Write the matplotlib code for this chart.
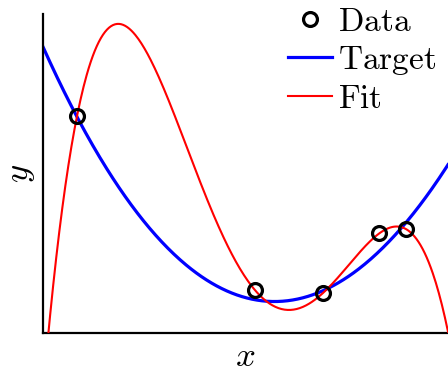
import matplotlib
matplotlib.use("Agg")
import matplotlib.pyplot as plt
import numpy as np

plt.rcParams['mathtext.fontset'] = 'cm'

# noisy samples
x_data = np.array([0.084, 0.523, 0.691, 0.830, 0.896])
y_data = np.array([0.680, 0.135, 0.125, 0.312, 0.326])

# true function (cubic coefficients, highest power first)
target_coeffs = [-0.1057, 2.564, -2.8277, 0.897]

# degree 4 polynomial through the 5 samples
fit_coeffs = np.polyfit(x_data, y_data, 4)

xs = np.linspace(0, 1, 400)

fig = plt.figure(figsize=(4.48, 3.73), dpi=100)
ax = fig.add_axes([43 / 448, 40 / 373, 405 / 448, 319 / 373])

ax.plot(xs, np.polyval(target_coeffs, xs), color='blue', lw=2.3, label=r'$\mathrm{Target}$', zorder=2)
ax.plot(xs, np.polyval(fit_coeffs, xs), color='red', lw=1.5, label=r'$\mathrm{Fit}$', zorder=3)
ax.plot(x_data, y_data, 'o', mfc='none', mec='black', mew=2.3, ms=10,
        label=r'$\mathrm{Data}$', zorder=4)

ax.set_xlim(0, 1)
ax.set_ylim(0, 1)
ax.set_xticks([])
ax.set_yticks([])
ax.spines['top'].set_visible(False)
ax.spines['right'].set_visible(False)
ax.spines['left'].set_linewidth(1.6)
ax.spines['bottom'].set_linewidth(1.6)

ax.set_xlabel(r'$x$', fontsize=25, labelpad=4)
ax.set_ylabel(r'$y$', fontsize=25, labelpad=4)

handles, labels = ax.get_legend_handles_labels()
order = [2, 0, 1]
ax.legend([handles[i] for i in order], [labels[i] for i in order],
          loc='upper right', bbox_to_anchor=(1.005, 1.07), frameon=False,
          fontsize=24, handlelength=1.3, handletextpad=0.2,
          labelspacing=0.15, borderaxespad=0.0)

fig.savefig('out.png', dpi=100)
